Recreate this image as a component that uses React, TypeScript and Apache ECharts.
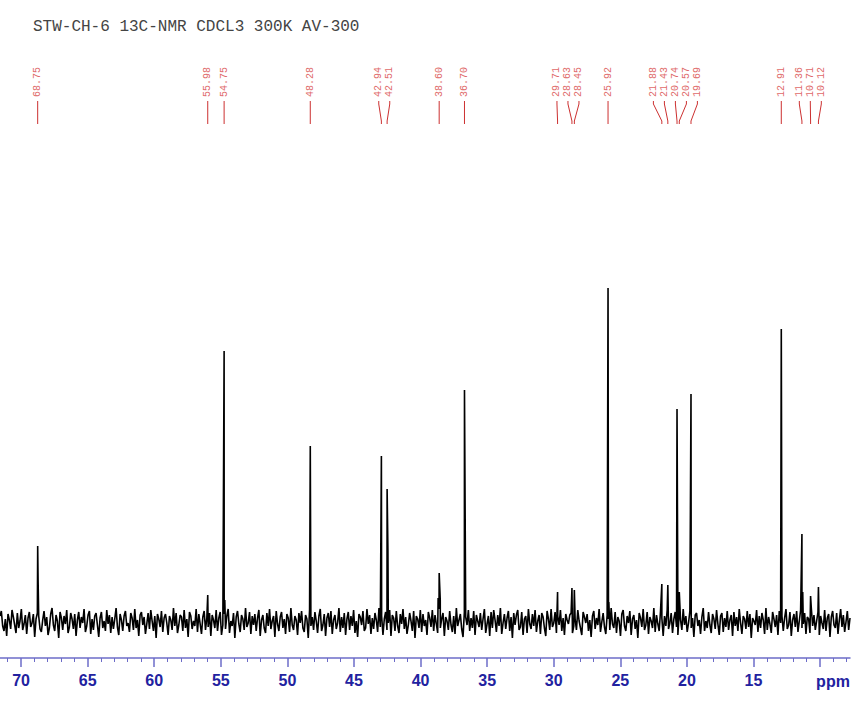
import { useEffect, useRef } from "react";
import * as echarts from "echarts";

const TITLE = "STW-CH-6 13C-NMR CDCL3 300K AV-300";

// spectral window (ppm), left edge to right edge
const ppmLeft = 71.58;
const ppmRight = 7.75;

// picked peaks (ppm) and their heights above baseline (intensity units)
const peakPpm = [68.75, 55.98, 54.75, 48.28, 42.94, 42.51, 38.6, 36.7, 29.71, 28.63, 28.45, 25.92, 21.88, 21.43, 20.74, 20.57, 19.69, 12.91, 11.36, 10.71, 10.12];
const peakHeight = [76, 27, 271, 176, 166, 133, 49, 232, 30, 34, 32, 334, 38, 37, 213, 30, 228, 293, 88, 26, 35];

// shoulders / broad bases next to some peaks
const shoulderPpm = [68.72, 54.7, 42.45, 38.68, 38.52, 25.86, 20.68, 11.3];
const shoulderHeight = [42, 22, 72, 24, 22, 20, 26, 30];

// baseline noise, sampled evenly from ppmLeft to ppmRight
const noise = [
  6, 11, -4, -9, 3, -14, 8, 2, -7, 12, 5, -3, -11, 9, -6, 1, 13, -8, -2, 7,
  -12, 4, 10, -5, -1, 8, -15, 3, 9, 6, -7, -10, 2, 11, -4, 5, -13, -6, 8, 14,
  -3, -9, 7, 1, -16, 10, 4, -8, 6, -2, 12, -11, -5, 9, 3, -7, 8, -14, 2, 10,
  -6, 5, -1, 13, -10, -4, 7, 11, -12, 3, -8, 6, 9, -3, -15, 4, 10, -6, 1, -9,
  12, -2, 7, -11, 5, -7, 3, 14, -5, -13, 8, 2, -9, 6, 11, -4, -1, -10, 9, 4,
  -8, 13, -6, 2, -14, 7, 10, -3, 5, -12, -2, 9, -7, 12, 1, -9, 6, -16, 8, 3,
  -5, 11, -10, 4, 8, -1, -13, 6, 2, -8, 14, -4, 9, -11, -3, 7, 5, -9, 12, -6,
  3, -15, 10, 6, -7, 1, -4, 13, -10, 8, -2, -12, 5, 11, -8, 4, -5, 9, -14, 7,
  2, -6, 12, -9, 4, 10, -13, -3, 8, -7, 6, 13, -11, 1, -4, 9, -16, 5, 11, -2,
  -10, 7, 3, -8, 14, -5, -1, 10, -12, 6, -3, 8, -9, 4, 12, -14, 2, 7, -6, -11,
  9, -4, 13, -7, 1, 6, -15, 11, -2, -9, 5, 10, -6, 3, -12, 8, 4, -10, 14, -3,
  -8, 6, 2, -13, 9, -1, 11, -6, -10, 7, 3, -16, 12, -4, 5, -8, 10, 1, -11, 6,
  13, -9, -3, 8, -14, 4, 9, -5, 11, -12, 2, 7, -7, -1, 14, -10, 5, -6, 9, -13,
  3, 10, -8, 6, -4, 12, -11, 1, -15, 8, 5, -3, 11, -9, -6, 13, -2, 7, -12, 4,
  -7, 9, 2, -10, 14, -5, 6, -13, 3, 10, -8, -1, 12, -14, 7, 4, -9, 11, -4, -11,
  8, -2, 13, -7, 5, -12, -3, 9, 1, -9, 11, -16, 6, 3, -6, 12, -10, 8, -4, 2,
  -13, 10, 4, -5, 12, -9, 7, -2, -11, 13, -6, 3, 9, -14, 5, 1, -8, 11, -3, -10,
  6, -12, 14, -4, 2, 8, -7, -15, 10, 5, -3, 12, -9, 4, -6, 11, -13, 7, 1, -5,
  9, -8, 3, 13, -11, -2, 6, -14, 10, -6, 12, 2, -10, 7, -4, 14, -12, -1, 8, -7,
  4, 11, -9, 5, -16, 9, -3, 7, 12, -8, -5, 10, -13, 3, 6, -11, 13, -2, -7, 8,
  -4, 12, -10, 1, 7, -12, 9, 5, -6, -14, 11, 3, -8, 13, -5, -1, 10, -11, 6, -3,
  12, -9, 4, -13, 8, 2,
  -2, 7, 9, -11, -4, 3, -8, 12, 1, -6, -13, 10, 5, -1, 8, -9, 2, -15, 6, 11,
  -7, 4, -3, 13, -10, 0, 9, -5, -12, 7, 3, -8, 14, -2, -6, 10, -11, 5, 1, -14,
  8, 12, -4, -9, 6, -1, 11, -13, 3, 7, -7, 2, -16, 9, 4, -5, 13, -8, -3, 10,
  -12, 5, 1, -6, 14, -10, 7, -2, -9, 11, 4, -14, 6, -4, 12, -7, -1, 9, -11, 3,
  10, -5, -13, 8, 2, -8, 13, -3, 6, -10, -1, 11, -6, 4, -15, 7, 9, -4, 2, -12,
  5, 14, -9, 1, -6, 10, -3, -11, 8, 3, -7, 12, -2, -13, 6, 9, -10, 4, -5, 11,
  -8, 2, 7, -14, 10, -4, 5, -9, 13, -1, -12, 6, 3, -7, 11, -5, 8, -16, 4, 1,
  -3, 12, -10, 6, -6, 9, 2, -12, 14, -8, 5, -2, -11, 10, 3, -5, 7, -13, 11, -1,
  6, -9, 4, 13, -7, -3, 10, -14, 2, 8, -5, 11, -10, 1, 12, -6, -2, 9, -12, 5,
  3, -11, 14, -4, 7, -8, 1, 10, -13, 6, -1, -7, 12, -9, 4, 8, -15, 5, 11, -3,
  -6, 9, -12, 2, 13, -5, 7, -10, 0, 11, -8, 4,
];

const majorTicks = [10, 15, 20, 25, 30, 35, 40, 45, 50, 55, 60, 65, 70];
const labelTicks = [15, 20, 25, 30, 35, 40, 45, 50, 55, 60, 65, 70];
const minorTicks = [8, 9, 11, 12, 13, 14, 16, 17, 18, 19, 21, 22, 23, 24, 26, 27, 28, 29, 31, 32, 33, 34, 36, 37, 38, 39, 41, 42, 43, 44, 46, 47, 48, 49, 51, 52, 53, 54, 56, 57, 58, 59, 61, 62, 63, 64, 66, 67, 68, 69, 71];
const unitLabel = "ppm";

const AXIS_LINE = "#6c6cc8";
const AXIS_TEXT = "#2222a0";
const PEAK_TEXT = "#e06a6a";
const PEAK_LINE = "#cc3030";

function buildSpectrum(): [number, number][] {
  const step = (ppmLeft - ppmRight) / (noise.length - 1);
  const pts: [number, number][] = noise.map((v, i) => [ppmLeft - i * step, v]);
  peakPpm.forEach((p, i) => pts.push([p, peakHeight[i]]));
  shoulderPpm.forEach((p, i) => pts.push([p, shoulderHeight[i]]));
  pts.sort((a, b) => b[0] - a[0]);
  return pts;
}

export default function App() {
  const ref = useRef<HTMLDivElement>(null);
  useEffect(() => {
    document.body.style.margin = "0";
    const chart = echarts.init(ref.current!, null, { renderer: "svg" });
    const axisCommon = {
      type: "value" as const,
      min: ppmRight,
      max: ppmLeft,
      inverse: true,
      position: "bottom" as const,
      splitLine: { show: false },
    };
    chart.setOption({
      animation: false,
      backgroundColor: "#ffffff",
      grid: { left: 0, right: 9, top: 140, bottom: 43, containLabel: false, outerBoundsMode: "none" },
      xAxis: [
        {
          ...axisCommon,
          axisLine: { show: true, onZero: false, lineStyle: { color: AXIS_LINE, width: 1.5 } },
          axisTick: { show: true, customValues: majorTicks, length: 9, lineStyle: { color: AXIS_LINE, width: 1.5 } },
          axisLabel: {
            show: true,
            customValues: labelTicks,
            margin: 14,
            color: AXIS_TEXT,
            fontSize: 16,
            fontWeight: "bold",
            fontFamily: "Liberation Sans, Arial, sans-serif",
          },
        },
        {
          ...axisCommon,
          axisLine: { show: false, onZero: false },
          axisLabel: { show: false },
          axisTick: { show: true, customValues: minorTicks, length: 4, lineStyle: { color: AXIS_LINE, width: 1 } },
        },
      ],
      yAxis: { type: "value", min: -36, max: 482, show: false },
      series: [
        {
          type: "line",
          xAxisIndex: 0,
          data: buildSpectrum(),
          showSymbol: false,
          symbol: "none",
          silent: true,
          lineStyle: { color: "#000000", width: 1.6 },
        },
      ],
    });

    // peak label layout
    const xs = peakPpm.map((p) => chart.convertToPixel({ xAxisIndex: 0 }, p) as number);
    const GAP = 11;
    const order = xs.map((_, i) => i).sort((a, b) => xs[a] - xs[b]);
    let clusters = order.map((i) => [i]);
    const start = (c: number[]) => c.reduce((s, i) => s + xs[i], 0) / c.length - ((c.length - 1) * GAP) / 2;
    let merged = true;
    while (merged) {
      merged = false;
      for (let k = 0; k < clusters.length - 1; k++) {
        const a = clusters[k];
        const b = clusters[k + 1];
        const aEnd = start(a) + (a.length - 1) * GAP;
        if (start(b) - aEnd < GAP) {
          clusters[k] = a.concat(b);
          clusters.splice(k + 1, 1);
          merged = true;
          break;
        }
      }
    }
    const labelX: number[] = new Array(xs.length);
    clusters.forEach((c) => {
      const s = start(c);
      c.forEach((i, j) => (labelX[i] = s + j * GAP));
    });

    const graphics: any[] = [
      {
        type: "text",
        x: 33,
        y: 27,
        style: {
          text: TITLE,
          fill: "#444444",
          font: '16px "Liberation Mono", "DejaVu Sans Mono", monospace',
          verticalAlign: "middle",
          align: "left",
        },
      },
      {
        type: "text",
        x: 833,
        y: 681,
        style: {
          text: unitLabel,
          fill: AXIS_TEXT,
          font: 'bold 16px "Liberation Sans", Arial, sans-serif',
          verticalAlign: "middle",
          align: "center",
        },
      },
    ];
    peakPpm.forEach((p, i) => {
      const lx = labelX[i];
      const px = xs[i];
      graphics.push({
        type: "text",
        x: lx,
        y: 97,
        rotation: Math.PI / 2,
        style: {
          text: p.toFixed(2),
          fill: PEAK_TEXT,
          font: '10px "Liberation Mono", "DejaVu Sans Mono", monospace',
          verticalAlign: "middle",
          align: "left",
        },
      });
      graphics.push({
        type: "polyline",
        shape: { points: [[lx, 101], [lx, 104], [px, 121], [px, 124]] },
        style: { stroke: PEAK_LINE, lineWidth: 1, fill: null },
      });
    });
    chart.setOption({ graphic: graphics });

    return () => chart.dispose();
  }, []);
  return <div ref={ref} style={{ width: 859, height: 701 }} />;
}
